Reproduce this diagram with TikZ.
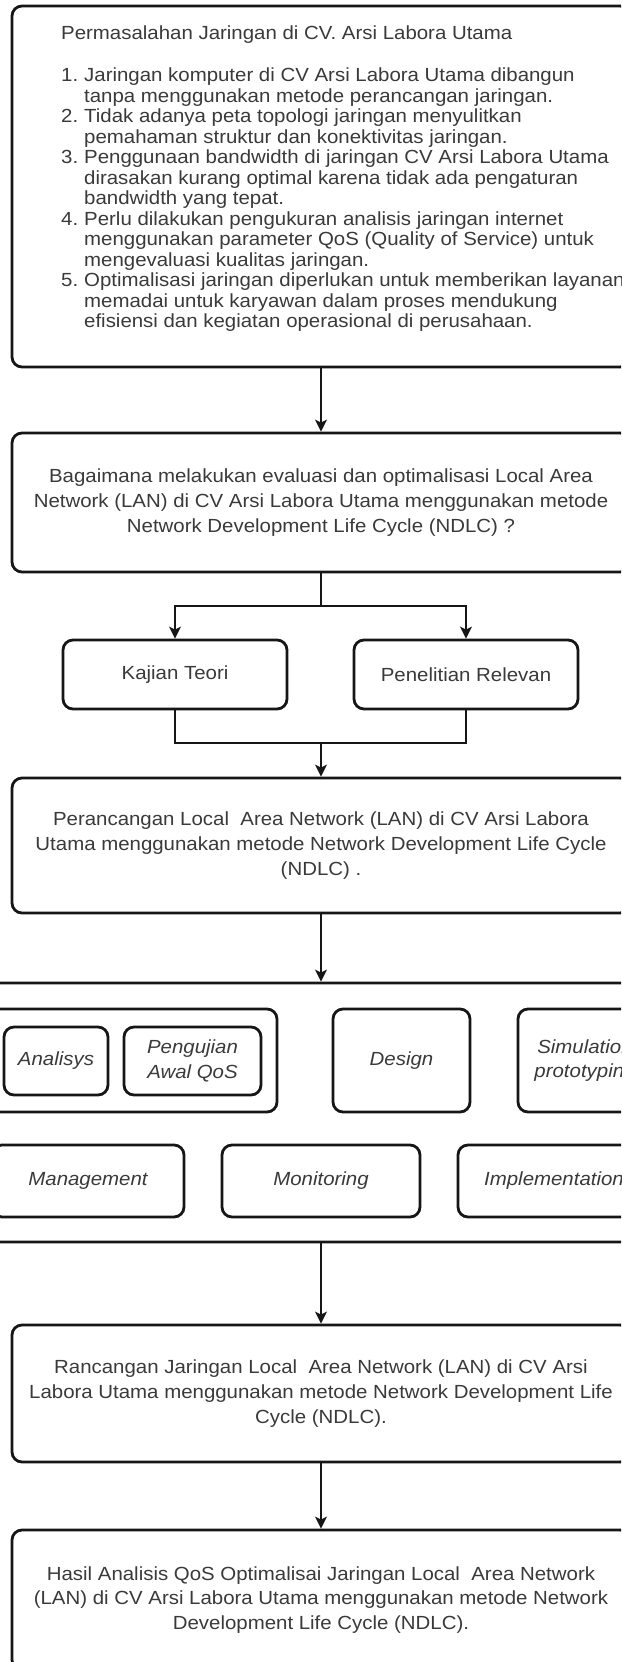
\documentclass[tikz,border=0pt]{standalone}
\usepackage{fontspec}
\setmainfont{Liberation Sans}[FakeStretch=1.075]
\usetikzlibrary{arrows.meta}
\definecolor{fcline}{RGB}{22,22,22}
\definecolor{fctext}{RGB}{58,58,58}
\newcommand{\numlbl}[1]{\makebox[23pt][l]{#1}}
\tikzset{
  box/.style={draw=fcline, line width=2.8pt, rounded corners=10pt, fill=white, align=center,
              text=fctext, inner sep=0pt, font=\fontsize{19}{24.8}\selectfont},
  main/.style={box, minimum width=618pt},
  phase/.style={box, font=\fontsize{19}{24.8}\selectfont\itshape},
  listtxt/.style={align=left, text=fctext, inner sep=0pt, font=\fontsize{19}{20.5}\selectfont},
  arr/.style={-{Stealth[length=12pt, width=12pt, inset=3pt]}, line width=1.6pt, draw=fcline},
  link/.style={line width=1.6pt, draw=fcline}
}

\begin{document}
\begin{tikzpicture}[x=1pt, y=-1pt]
  \useasboundingbox[fill=white] (0,0) rectangle (621,1662);
  \clip (0,0) rectangle (621,1662);
  % problem statement
  \node[main, minimum height=361pt] (prob) at (321,186.5) {};
  \node[listtxt, anchor=north west] (probtxt) at (61,26) {Permasalahan Jaringan di CV. Arsi Labora Utama\\[21.5pt]
    \numlbl{1.}Jaringan komputer di CV Arsi Labora Utama dibangun\\
    \numlbl{}tanpa menggunakan metode perancangan jaringan.\\
    \numlbl{2.}Tidak adanya peta topologi jaringan menyulitkan\\
    \numlbl{}pemahaman struktur dan konektivitas jaringan.\\
    \numlbl{3.}Penggunaan bandwidth di jaringan CV Arsi Labora Utama\\
    \numlbl{}dirasakan kurang optimal karena tidak ada pengaturan\\
    \numlbl{}bandwidth yang tepat.\\
    \numlbl{4.}Perlu dilakukan pengukuran analisis jaringan internet\\
    \numlbl{}menggunakan parameter QoS (Quality of Service) untuk\\
    \numlbl{}mengevaluasi kualitas jaringan.\\
    \numlbl{5.}Optimalisasi jaringan diperlukan untuk memberikan layanan\\
    \numlbl{}memadai untuk karyawan dalam proses mendukung\\
    \numlbl{}efisiensi dan kegiatan operasional di perusahaan.};
  \node[main, minimum height=139pt] (quest) at (321,502.5) {Bagaimana melakukan evaluasi dan optimalisasi Local Area\\Network (LAN) di CV Arsi Labora Utama menggunakan metode\\Network Development Life Cycle (NDLC) ?};
  \node[box, minimum width=224pt, minimum height=69pt] (kajian) at (175,674.5) {Kajian Teori};
  \node[box, minimum width=224pt, minimum height=69pt] (relevan) at (466,674.5) {Penelitian Relevan};
  \node[main, minimum height=135pt] (plan) at (321,845.5) {Perancangan Local\ \ Area Network (LAN) di CV Arsi Labora\\Utama menggunakan metode Network Development Life Cycle\\(NDLC) .};
  % NDLC stages
  \node[box, minimum width=700pt, minimum height=259pt] (ndlc) at (321,1112.5) {};
  \node[box, minimum width=291pt, minimum height=103pt] (grp) at (131.5,1060.5) {};
  \node[phase, minimum width=104pt, minimum height=68pt] (analisys) at (56,1061) {Analisys};
  \node[phase, minimum width=137pt, minimum height=68pt] (awal) at (192.5,1061) {Pengujian\\Awal QoS};
  \node[phase, minimum width=137pt, minimum height=103pt] (design) at (401.5,1060.5) {Design};
  \node[phase, minimum width=134pt, minimum height=103pt] (simul) at (585,1060.5) {Simulation\\prototyping};
  \node[phase, minimum width=192pt, minimum height=72pt] (mgmt) at (88,1181) {Management};
  \node[phase, minimum width=198pt, minimum height=72pt] (monit) at (321,1181) {Monitoring};
  \node[phase, minimum width=192pt, minimum height=72pt] (impl) at (554,1181) {Implementation};
  \node[main, minimum height=137pt] (ranc) at (321,1393.5) {Rancangan Jaringan Local\ \ Area Network (LAN) di CV Arsi\\Labora Utama menggunakan metode Network Development Life\\Cycle (NDLC).};
  \node[main, minimum height=140pt] (hasil) at (321,1600) {Hasil Analisis QoS Optimalisai Jaringan Local\ \ Area Network\\(LAN) di CV Arsi Labora Utama menggunakan metode Network\\Development Life Cycle (NDLC).};
  % connectors
  \coordinate (split) at (321,606);
  \coordinate (join) at (321,743);
  \draw[arr] (prob) -- (quest);
  \draw[link] (quest) -- (split);
  \draw[arr] (split) -| (kajian);
  \draw[arr] (split) -| (relevan);
  \draw[link] (kajian) |- (join) -| (relevan);
  \draw[arr] (join) -- (plan);
  \draw[arr] (plan) -- (ndlc);
  \draw[arr] (ndlc) -- (ranc);
  \draw[arr] (ranc) -- (hasil);
\end{tikzpicture}
\end{document}
